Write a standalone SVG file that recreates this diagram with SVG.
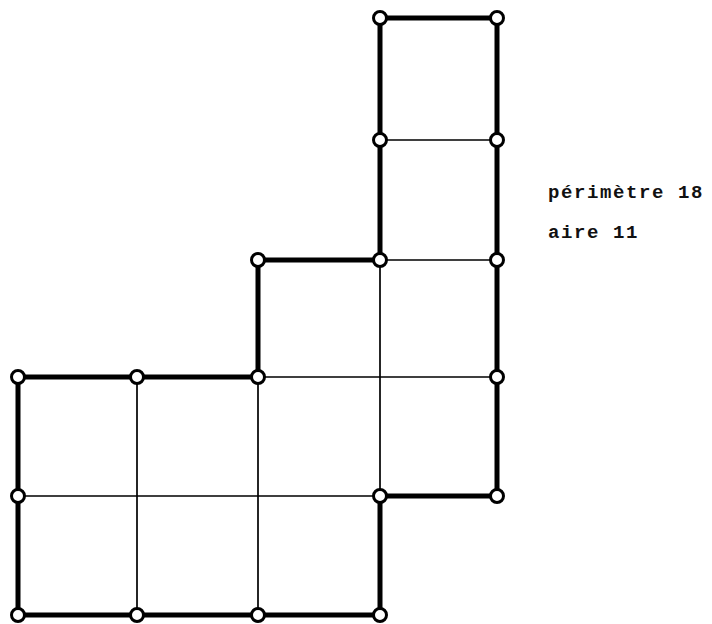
<svg xmlns="http://www.w3.org/2000/svg" width="712" height="624" viewBox="0 0 712 624">
<style>
.thick{stroke:#000;stroke-width:5;fill:none;stroke-linecap:round;stroke-linejoin:round}
.thin{stroke:#000;stroke-width:1.7;fill:none}
.node{fill:#fff;stroke:#000;stroke-width:3}
.lbl{font-family:"Liberation Mono","DejaVu Sans Mono",monospace;font-size:19px;font-weight:bold;letter-spacing:1.6px;fill:#111}
</style>
<rect width="712" height="624" fill="#fff"/>
<g id="connectors">
<path class="thin" d="M380 140H497M380 260H497M258 377H497M18 496H380M137 377V615M258 377V615M380 260V496"/>
<path class="thick" d="M380 18H497V496H380V615H18V377H258V260H380Z"/>
</g>
<g id="n1"><circle class="node" cx="380" cy="18" r="6.5"/></g>
<g id="n2"><circle class="node" cx="497" cy="18" r="6.5"/></g>
<g id="n3"><circle class="node" cx="380" cy="140" r="6.5"/></g>
<g id="n4"><circle class="node" cx="497" cy="140" r="6.5"/></g>
<g id="n5"><circle class="node" cx="258" cy="260" r="6.5"/></g>
<g id="n6"><circle class="node" cx="380" cy="260" r="6.5"/></g>
<g id="n7"><circle class="node" cx="497" cy="260" r="6.5"/></g>
<g id="n8"><circle class="node" cx="18" cy="377" r="6.5"/></g>
<g id="n9"><circle class="node" cx="137" cy="377" r="6.5"/></g>
<g id="n10"><circle class="node" cx="258" cy="377" r="6.5"/></g>
<g id="n11"><circle class="node" cx="497" cy="377" r="6.5"/></g>
<g id="n12"><circle class="node" cx="18" cy="496" r="6.5"/></g>
<g id="n13"><circle class="node" cx="380" cy="496" r="6.5"/></g>
<g id="n14"><circle class="node" cx="497" cy="496" r="6.5"/></g>
<g id="n15"><circle class="node" cx="18" cy="615" r="6.5"/></g>
<g id="n16"><circle class="node" cx="137" cy="615" r="6.5"/></g>
<g id="n17"><circle class="node" cx="258" cy="615" r="6.5"/></g>
<g id="n18"><circle class="node" cx="380" cy="615" r="6.5"/></g>
<g id="labels">
<text class="lbl" x="548" y="198">périmètre 18</text>
<text class="lbl" x="548" y="238">aire 11</text>
</g>
</svg>
